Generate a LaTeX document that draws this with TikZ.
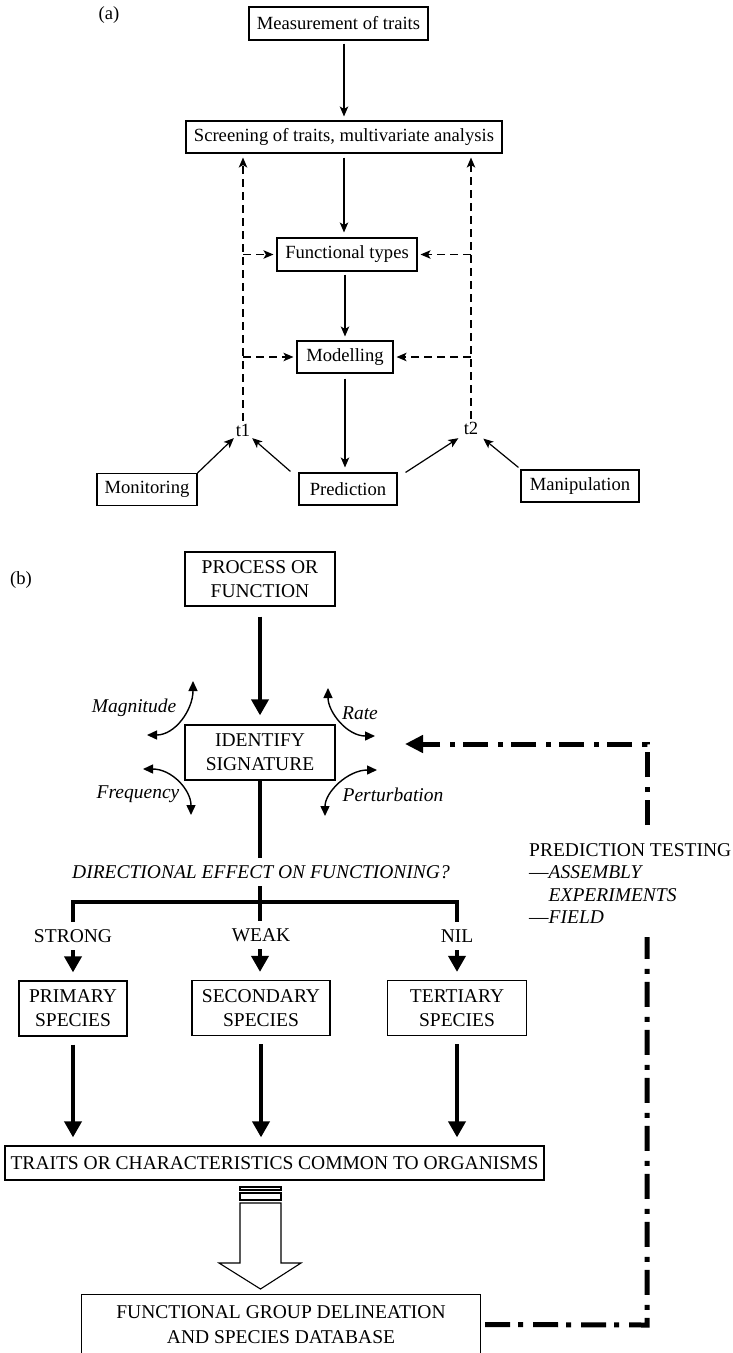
\documentclass[tikz,border=0pt]{standalone}
\usepackage{fontspec}
\setmainfont{Liberation Serif}
\usetikzlibrary{arrows.meta,calc}
\begin{document}
\begin{tikzpicture}[x=1pt,y=-1pt,
  fa/.style={font=\fontsize{18.6}{21}\selectfont},
  fb/.style={font=\fontsize{19.5}{24}\selectfont},
  bi/.style={font=\fontsize{19.5}{24}\selectfont\itshape},
  abox/.style={draw, line width=1.1pt, inner sep=0pt, fa, align=center},
  bbox/.style={draw, line width=1.3pt, inner sep=0pt, fb, align=center},
  aarr/.style={line width=1.2pt, -{Stealth[length=10pt,width=8.5pt,inset=2.5pt]}},
  adash/.style={aarr, dash pattern=on 8pt off 5pt},
  barr/.style={line width=3.8pt, -{Triangle[length=16pt,width=17pt]}},
  bline/.style={line width=3.8pt, line cap=rect},
  curv/.style={line width=1.4pt, {Triangle[length=10pt,width=9pt]}-{Triangle[length=10pt,width=9pt]}},
  dd/.style={line width=5pt, dash pattern=on 25pt off 8pt on 5pt off 10pt},
  lab/.style={fb, fill=white, inner xsep=2pt, inner ysep=7.5pt},
]
\useasboundingbox (0,0) rectangle (732,1353);

% ---------------- part (a) ----------------
\node[fa] (la) at (109,15) {(a)};
\node[abox, minimum width=179pt, minimum height=33pt] (meas) at (338.5,23.5) {Measurement of traits};
\node[abox, minimum width=316pt, minimum height=32pt] (screen) at (344,137) {Screening of traits, multivariate analysis};
\node[abox, minimum width=140pt, minimum height=33pt] (func) at (347,254.5) {Functional types};
\node[abox, minimum width=96pt, minimum height=32pt] (model) at (345,357) {Modelling};
\node[abox, minimum width=100pt, minimum height=32pt] (monit) at (147,489.5) {Monitoring};
\node[abox, minimum width=98pt, minimum height=32pt] (pred) at (348,489) {Prediction};
\node[abox, minimum width=118pt, minimum height=32pt] (manip) at (580,486) {Manipulation};
\node[fa, inner sep=1pt] (t1) at (243,430) {t1};
\node[fa, inner sep=1pt] (t2) at (471,428) {t2};

\draw[aarr, shorten <=3pt, shorten >=4pt] (meas.south -| screen.north) -- (screen.north);
\draw[aarr, shorten <=4pt, shorten >=5pt] (screen.south) -- (screen.south |- func.north);
\draw[aarr, shorten <=3pt, shorten >=4pt] (func.south -| model.north) -- (model.north);
\draw[aarr, shorten <=5pt, shorten >=5pt] (model.south) -- (model.south |- pred.north);

\draw[adash, shorten <=2pt, shorten >=4pt] (t1.north) -- (t1.north |- screen.south);
\draw[adash, shorten <=2pt, shorten >=4pt] (t2.north) -- (t2.north |- screen.south);
\draw[adash, shorten >=3pt] (t1.north |- func.west) -- (func.west);
\draw[adash, shorten >=3pt] (t2.north |- func.east) -- (func.east);
\draw[adash, shorten >=3pt] (t1.north |- model.west) -- (model.west);
\draw[adash, shorten >=3pt] (t2.north |- model.east) -- (model.east);

\draw[aarr, shorten >=1pt] (monit.north east) -- (t1.south west);
\draw[aarr, shorten >=1pt] ($(pred.north west)+(-8,-1)$) -- (t1.south east);
\draw[aarr, shorten >=5pt] ($(pred.north east)+(8,0)$) -- (t2.south west);
\draw[aarr, shorten >=5pt] ($(manip.north west)+(-2,-2)$) -- (t2.south east);

% ---------------- part (b) ----------------
\node[fa] (lb) at (21,580) {(b)};
\node[bbox, minimum width=150pt, minimum height=54pt] (proc) at (260,579) {PROCESS OR\\FUNCTION};
\node[bbox, minimum width=150pt, minimum height=55pt] (ident) at (260,752.5) {IDENTIFY\\SIGNATURE};
\draw[barr, shorten <=10pt, shorten >=9pt] (proc.south) -- (ident.north);

\node[bi] (mag) at (134,708) {Magnitude};
\node[bi] (rate) at (360,713) {Rate};
\node[bi] (freq) at (138,794) {Frequency};
\node[bi] (pert) at (393,795) {Perturbation};
\coordinate (m1) at (147,735); \coordinate (m2) at (193,681);
\coordinate (r1) at (375,736); \coordinate (r2) at (328,688);
\coordinate (f1) at (143,769); \coordinate (f2) at (191,815);
\coordinate (p1) at (377,770); \coordinate (p2) at (325,816);
\draw[curv] (m1) .. controls (175,735) and (193,710) .. (m2);
\draw[curv] (r1) .. controls (347,736) and (328,712) .. (r2);
\draw[curv] (f1) .. controls (172,769) and (191,790) .. (f2);
\draw[curv] (p1) .. controls (348,770) and (325,792) .. (p2);

\node[bbox, minimum width=108pt, minimum height=55pt] (prim) at (73,1008.5) {PRIMARY\\SPECIES};
\node[bbox, minimum width=138pt, minimum height=55pt] (sec) at (261,1008) {SECONDARY\\SPECIES};
\node[bbox, minimum width=139pt, minimum height=55pt] (ter) at (457,1008) {TERTIARY\\SPECIES};
\node[bbox, minimum width=539pt, minimum height=34pt] (traits) at (274.5,1163) {TRAITS OR CHARACTERISTICS COMMON TO ORGANISMS};

\coordinate (barL) at (73,902);
\coordinate (barR) at (457,902);
\draw[bline] (barL) -- (barR);
\draw[barr, shorten >=8pt] (ident.south) -- (ident.south |- sec.north);
\draw[barr, shorten >=8pt] (barL) -- (prim.north);
\draw[barr, shorten >=8pt] (barR) -- (ter.north);
\node[bi, fill=white, inner xsep=2pt, inner ysep=7pt] (dir) at (261,872) {DIRECTIONAL EFFECT ON FUNCTIONING?};
\node[lab] (strong) at (73,936) {STRONG};
\node[lab] (weak) at (261,935) {WEAK};
\node[lab] (nil) at (457,936) {NIL};

\draw[barr, shorten <=8pt, shorten >=8pt] (prim.south) -- (prim.south |- traits.north);
\draw[barr, shorten <=8pt, shorten >=8pt] (sec.south) -- (sec.south |- traits.north);
\draw[barr, shorten <=8pt, shorten >=8pt] (ter.south) -- (ter.south |- traits.north);

% hollow arrow
\draw[line width=1.1pt] (240,1187) rectangle (281,1190);
\draw[line width=1.1pt] (240,1193) rectangle (281,1200);
\draw[line width=1.1pt, line join=miter] (240,1203) -- (281,1203) -- (281,1263) -- (301,1263) -- (260.5,1289) -- (219,1263) -- (240,1263) -- cycle;

% functional group box (open at the bottom edge)
\node[fb, align=center, inner sep=0pt, minimum width=398pt, minimum height=59pt, font=\fontsize{19.5}{25}\selectfont] (fg) at (281,1324.5) {FUNCTIONAL GROUP DELINEATION\\AND SPECIES DATABASE};
\draw[line width=1.3pt] (fg.south west) -- (fg.north west) -- (fg.north east) -- (fg.south east);

% prediction testing feedback
\node[fb, align=left, anchor=west, inner sep=0pt, font=\fontsize{19.5}{22.4}\selectfont] (pt) at (529,883.5) {PREDICTION TESTING\\—\textit{ASSEMBLY}\\\hphantom{—}\textit{EXPERIMENTS}\\—\textit{FIELD}};
\coordinate (c1) at (647,1325);
\coordinate (g1) at (647,937);
\coordinate (g2) at (647,825);
\coordinate (c2) at (647,744);
\coordinate (tip) at (405,744);
\draw[dd, line join=miter, shorten <=5pt] (fg.east) -- (c1) -- (g1);
\draw[dd, line join=miter, -{Triangle[length=18pt,width=17pt]}] (g2) -- (c2) -- (tip);
\end{tikzpicture}
\end{document}
